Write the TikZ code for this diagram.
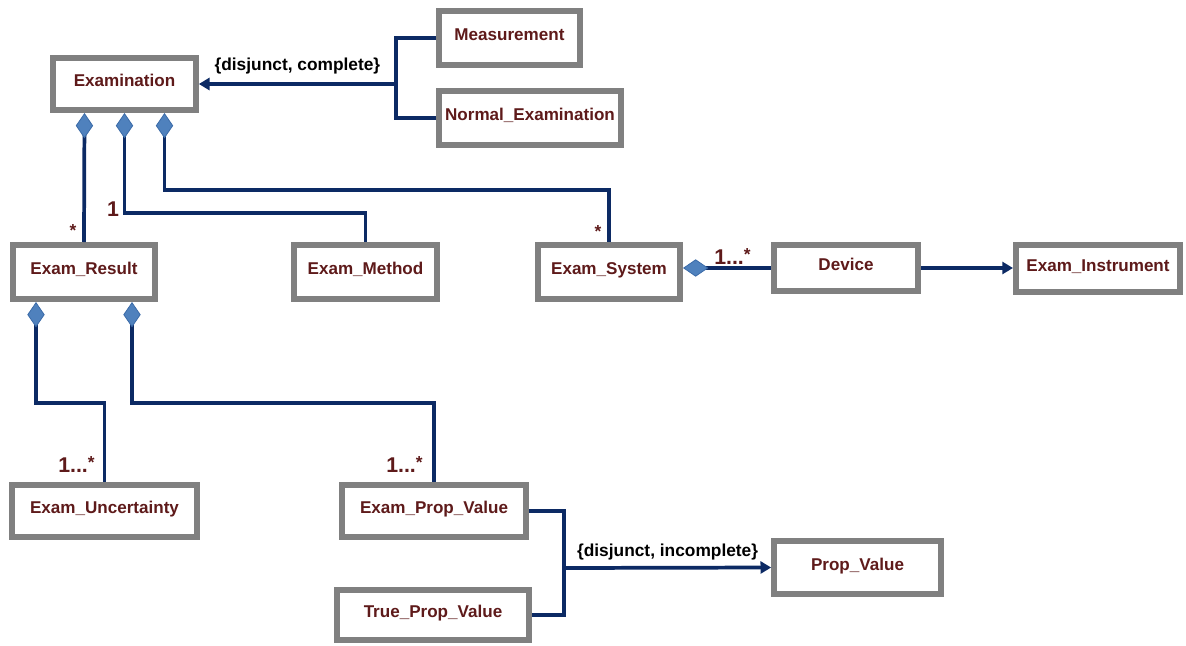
\documentclass[tikz,border=0pt]{standalone}
\usepackage{fontspec}
\setmainfont{Liberation Sans}
\usetikzlibrary{arrows.meta}
\definecolor{boxgray}{HTML}{808080}
\definecolor{linknavy}{HTML}{0C2A64}
\definecolor{textred}{HTML}{5E1A1A}
\definecolor{diafill}{HTML}{4F81BD}
\definecolor{diaedge}{HTML}{3B6BA8}

\begin{document}
\begin{tikzpicture}[x=0.75pt, y=-0.75pt,
    cls/.style={draw=boxgray, line width=4.5pt, fill=white, inner sep=0pt,
      font=\fontsize{12.8}{14}\selectfont\bfseries, text=textred,
      text height=10pt, text depth=6pt},
    link/.style={draw=linknavy, line width=2.8pt},
    comp/.style={link, {Diamond[length=19pt, width=13pt, fill=diafill, color=diaedge, line width=0.6pt]}-},
    gen/.style={link, -{Triangle[length=8pt, width=9pt]}},
    mult/.style={font=\fontsize{16}{18}\selectfont\bfseries, text=textred, inner sep=0pt},
    star/.style={font=\fontsize{13}{15}\selectfont\bfseries, text=textred, inner sep=0pt},
    note/.style={font=\fontsize{13}{15}\selectfont\bfseries, inner sep=1pt}]
  \useasboundingbox (0,0) rectangle (1186,646);

  % classes - top row
  \node[cls, minimum width=107pt, minimum height=39pt] (exam) at (124.5,84) {Examination};
  \node[cls, minimum width=106pt, minimum height=40.5pt] (meas) at (509.5,38) {Measurement};
  \node[cls, minimum width=136.5pt, minimum height=40.5pt] (normex) at (530,118) {Normal\_Examination};

  % classes - middle row
  \node[cls, minimum width=106.5pt, minimum height=40.5pt] (result) at (84,272) {Exam\_Result};
  \node[cls, minimum width=107pt, minimum height=40.5pt] (method) at (365.5,272) {Exam\_Method};
  \node[cls, minimum width=106.5pt, minimum height=40.5pt] (system) at (609,272) {Exam\_System};
  \node[cls, minimum width=108pt, minimum height=34.5pt] (device) at (846,268) {Device};
  \node[cls, minimum width=123pt, minimum height=35pt] (instr) at (1098,268.5) {Exam\_Instrument};

  % classes - bottom rows
  \node[cls, minimum width=139pt, minimum height=39pt] (uncert) at (104.5,511) {Exam\_Uncertainty};
  \node[cls, minimum width=138pt, minimum height=39pt] (epv) at (434,511) {Exam\_Prop\_Value};
  \node[cls, minimum width=144pt, minimum height=37.5pt] (tpv) at (433,615) {True\_Prop\_Value};
  \node[cls, minimum width=125pt, minimum height=40pt] (pv) at (857.5,567.5) {Prop\_Value};

  % generalization - examination
  \coordinate (g1) at (396,84);
  \draw[link] (meas.west) -| (g1);
  \draw[link] (normex.west) -| (g1);
  \draw[gen] (g1) -- node[note, above=5pt] (n1) {\{disjunct, complete\}} (exam.east |- g1);

  % compositions - examination
  \draw[comp] ([xshift=-30pt]exam.south) -- (result.north);
  \draw[comp] (exam.south) -- ++(0,100) -| (method.north);
  \draw[comp] ([xshift=30pt]exam.south) -- ++(0,77) -| (system.north);
  \node[star] (s1) at (73,231) {*};
  \node[mult] (m1) at (113,209) {1};
  \node[star] (s2) at (598,232) {*};

  % exam system - device - instrument
  \draw[comp] (system.east |- device.west) -- (device.west);
  \node[mult, anchor=base west] (m2) at (714,264) {1...\raisebox{3pt}{\fontsize{13}{15}\selectfont *}};
  \draw[gen] (device.east) -- (instr.west |- device.east);

  % compositions - exam result
  \draw[comp] ([xshift=-36pt]result.south) -- ++(0,101) -| (uncert.north);
  \draw[comp] ([xshift=36pt]result.south) -- ++(0,101) -| (epv.north);
  \node[mult, anchor=base west] (m3) at (58,472) {1...\raisebox{3pt}{\fontsize{13}{15}\selectfont *}};
  \node[mult, anchor=base west] (m4) at (386,472) {1...\raisebox{3pt}{\fontsize{13}{15}\selectfont *}};

  % generalization - prop value
  \coordinate (g2) at (564,568);
  \draw[link] (epv.east) -| (g2);
  \draw[link] (tpv.east) -| (g2);
  \draw[gen] (g2) -- node[note, above=3pt] (n2) {\{disjunct, incomplete\}} (pv.west);
\end{tikzpicture}
\end{document}
